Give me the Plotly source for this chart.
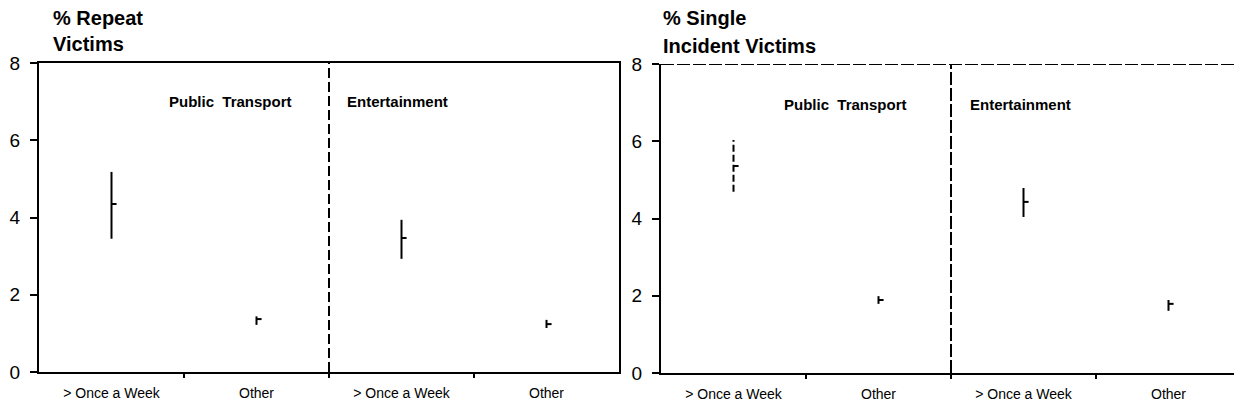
import plotly.graph_objects as go

categories = ["> Once a Week", "Other", "> Once a Week", "Other"]
groups = ["Public  Transport", "Entertainment"]

repeat_mean = [4.35, 1.37, 3.47, 1.24]
repeat_low = [3.45, 1.22, 2.93, 1.14]
repeat_high = [5.18, 1.44, 3.94, 1.35]

single_mean = [5.36, 1.89, 4.43, 1.79]
single_low = [4.69, 1.79, 4.04, 1.61]
single_high = [6.03, 1.99, 4.79, 1.89]
single_dashed = [True, False, False, False]

y_ticks = [0, 2, 4, 6, 8]
title_left = ["% Repeat", "Victims"]
title_right = ["% Single", "Incident Victims"]

FONT = "Liberation Sans, Arial, sans-serif"
W, H = 1234, 412
BLACK = "#000000"

fig = go.Figure()
n = len(categories)
xs = list(range(n))
tick_w = 0.035


def add_panel(means, lows, highs, dashed, xa, ya):
    for i in xs:
        dash = "7px,3px" if dashed[i] else "solid"
        fig.add_trace(go.Scatter(x=[i, i], y=[lows[i], highs[i]], mode="lines",
                                 line=dict(color=BLACK, width=2, dash=dash),
                                 xaxis=xa, yaxis=ya, showlegend=False, hoverinfo="skip"))
        fig.add_trace(go.Scatter(x=[i, i + tick_w], y=[means[i], means[i]], mode="lines",
                                 line=dict(color=BLACK, width=2),
                                 xaxis=xa, yaxis=ya, showlegend=False, hoverinfo="skip"))


add_panel(repeat_mean, repeat_low, repeat_high, [False] * n, "x", "y")
add_panel(single_mean, single_low, single_high, single_dashed, "x2", "y2")

left_dom = [39 / W, 619 / W]
right_dom = [661 / W, 1.0]
yl_dom = [(H - 372) / H, (H - 63) / H]
yr_dom = [(H - 373) / H, (H - 64) / H]

xcommon = dict(tickmode="array", tickvals=xs, ticktext=categories,
               ticks="outside", ticklen=7, tickcolor="rgba(0,0,0,0)",
               tickfont=dict(family=FONT, size=14, color=BLACK), automargin=False,
               showgrid=False, zeroline=False, showline=True, linecolor=BLACK, linewidth=2,
               minor=dict(tickmode="array", tickvals=[i + 0.5 for i in xs[:-1]],
                          ticks="outside", ticklen=4, tickcolor=BLACK, tickwidth=2))
ycommon = dict(range=[0, 8], tickmode="array", tickvals=y_ticks, ticks="outside", ticklen=7,
               tickcolor=BLACK, tickwidth=2, showgrid=False, zeroline=False, automargin=False,
               showline=True, linecolor=BLACK, linewidth=2, ticklabelstandoff=6,
               tickfont=dict(family=FONT, size=19, color=BLACK))

x_right_end = -0.5 + (W - 661) / 145.0

fig.update_layout(
    width=W, height=H, margin=dict(l=0, r=0, t=0, b=0, autoexpand=False),
    paper_bgcolor="white", plot_bgcolor="white", showlegend=False,
    xaxis=dict(domain=left_dom, range=[-0.5, n - 0.5], anchor="y", mirror=True, **xcommon),
    yaxis=dict(domain=yl_dom, anchor="x", mirror=True, **ycommon),
    xaxis2=dict(domain=right_dom, range=[-0.5, x_right_end], anchor="y2", **xcommon),
    yaxis2=dict(domain=yr_dom, anchor="x2", **ycommon),
)

for ax_name, dom, rng, anchor, over in [("xaxis3", left_dom, [-0.5, n - 0.5], "y", "x"),
                                        ("xaxis4", right_dom, [-0.5, x_right_end], "y2", "x2")]:
    fig.update_layout(**{ax_name: dict(domain=dom, range=rng, anchor=anchor, overlaying=over,
                                       tickmode="array", tickvals=[i + 0.5 for i in xs[:-1]],
                                       ticks="inside", ticklen=9, tickwidth=2, tickcolor=BLACK,
                                       showticklabels=False, showgrid=False, zeroline=False,
                                       showline=False, automargin=False)})

divider = (n - 1) / 2
fig.add_shape(type="line", xref="x", yref="y", x0=divider, x1=divider, y0=0, y1=8,
              line=dict(color=BLACK, width=2, dash="10px,4px"))
fig.add_shape(type="line", xref="x2", yref="y2", x0=divider, x1=divider, y0=0, y1=8,
              line=dict(color=BLACK, width=2, dash="13px,3px"))
fig.add_shape(type="line", xref="x2", yref="y2", x0=-0.5, x1=x_right_end, y0=8, y1=8,
              line=dict(color=BLACK, width=2, dash="13px,3px"))

ann_font = dict(family=FONT, size=15, color=BLACK)
fig.add_annotation(text="<b>" + groups[0] + "</b>", x=0.82, y=7.0, xref="x", yref="y",
                   showarrow=False, font=ann_font, xanchor="center", yanchor="middle")
fig.add_annotation(text="<b>" + groups[1] + "</b>", x=1.61, y=7.0, xref="x", yref="y",
                   showarrow=False, font=ann_font, xanchor="left", yanchor="middle")
fig.add_annotation(text="<b>" + groups[0] + "</b>", x=0.77, y=6.94, xref="x2", yref="y2",
                   showarrow=False, font=ann_font, xanchor="center", yanchor="middle")
fig.add_annotation(text="<b>" + groups[1] + "</b>", x=1.62, y=6.94, xref="x2", yref="y2",
                   showarrow=False, font=ann_font, xanchor="left", yanchor="middle")

title_font = dict(family=FONT, size=20, color=BLACK)
for line, yy in zip(title_left, [18, 44]):
    fig.add_annotation(text="<b>" + line + "</b>", x=51 / W, y=1 - yy / H, xref="paper", yref="paper",
                       showarrow=False, font=title_font, xanchor="left", yanchor="middle")
for line, yy in zip(title_right, [18, 46]):
    fig.add_annotation(text="<b>" + line + "</b>", x=661 / W, y=1 - yy / H, xref="paper", yref="paper",
                       showarrow=False, font=title_font, xanchor="left", yanchor="middle")

fig.write_html("out.html", config={"displayModeBar": False},
               post_script="document.body.style.margin='0';document.body.style.overflow='hidden';")
